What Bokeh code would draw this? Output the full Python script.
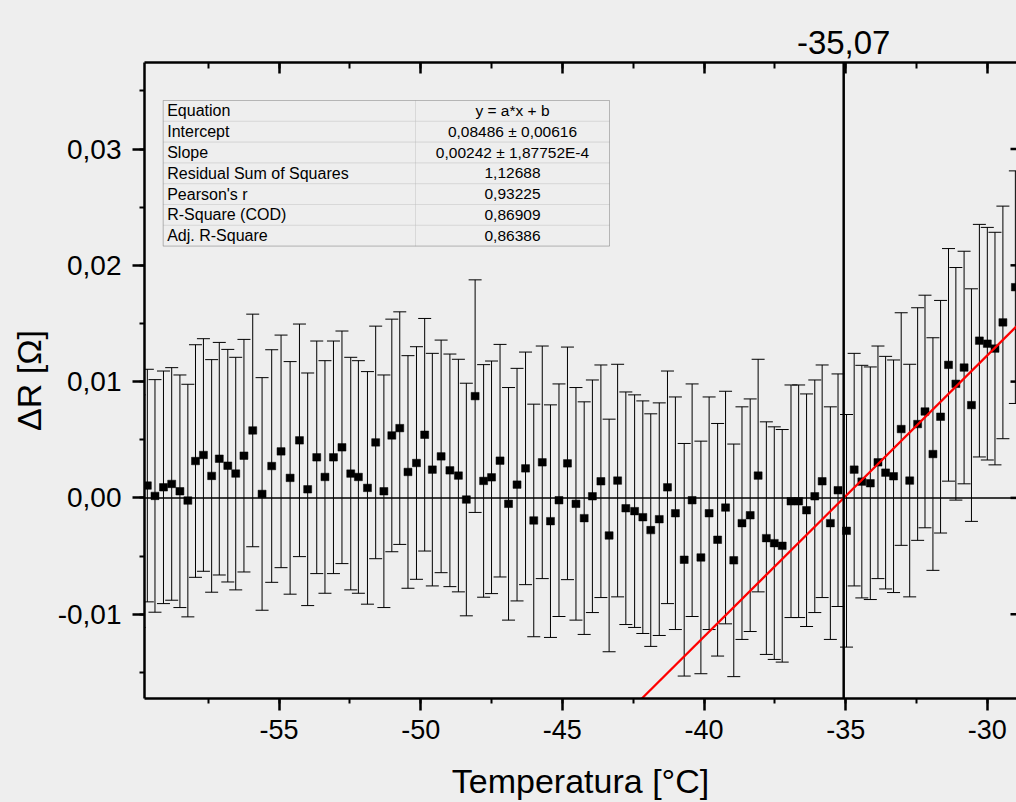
import numpy as np
from bokeh.plotting import figure
from bokeh.models import (Span, Label, BoxAnnotation, LinearAxis, Range1d, Title, FixedTicker,
                          CustomJSTickFormatter, ColumnDataSource, SingleIntervalTicker)
from bokeh.embed import file_html
from bokeh.resources import INLINE

# ---------------- data ----------------
temperature = [
    -59.94, -59.65, -59.38, -59.08, -58.79, -58.50, -58.22, -57.95, -57.67, -57.38, -57.11,
    -56.81, -56.53, -56.24, -55.93, -55.60, -55.26, -54.93, -54.61, -54.28, -53.99,
    -53.67, -53.38, -53.08, -52.78, -52.47, -52.20, -51.88, -51.59, -51.30, -51.02,
    -50.74, -50.45, -50.15, -49.86, -49.59, -49.28, -48.97, -48.67, -48.39, -48.08,
    -47.78, -47.50, -47.20, -46.90, -46.60, -46.30, -46.01, -45.71, -45.42, -45.12,
    -44.82, -44.52, -44.23, -43.94, -43.64, -43.35, -43.05, -42.76, -42.45, -42.16,
    -41.88, -41.58, -41.29, -41.01, -40.70, -40.42, -40.11, -39.82, -39.52, -39.24,
    -38.95, -38.66, -38.37, -38.09, -37.80, -37.52, -37.24, -36.93, -36.66, -36.38,
    -36.09, -35.83, -35.54, -35.27, -34.97, -34.70, -34.43, -34.13, -33.86, -33.59,
    -33.31, -33.04, -32.74, -32.46, -32.20, -31.92, -31.65, -31.37, -31.11, -30.82,
    -30.56, -30.28, -30.00, -29.73, -29.45, -29.01,
]
delta_r = [
    -0.00114, 0.00106, 0.00017, 0.00091, 0.00120, 0.00057, -0.00023, 0.00317, 0.00369, 0.00189, 0.00337,
    0.00277, 0.00209, 0.00363, 0.00580, 0.00034, 0.00274, 0.00400, 0.00172, 0.00495, 0.00074,
    0.00349, 0.00180, 0.00349, 0.00435, 0.00209, 0.00180, 0.00086, 0.00477, 0.00057, 0.00537,
    0.00600, 0.00223, 0.00300, 0.00543, 0.00243, 0.00357, 0.00237, 0.00192, -0.00014, 0.00875,
    0.00146, 0.00177, 0.00320, -0.00051, 0.00114, 0.00254, -0.00194, 0.00306, -0.00200, -0.00020,
    0.00297, -0.00051, -0.00174, 0.00014, 0.00143, -0.00323, 0.00149, -0.00089, -0.00114, -0.00166,
    -0.00277, -0.00183, 0.00091, -0.00132, -0.00532, -0.00020, -0.00512, -0.00132, -0.00360, -0.00083,
    -0.00537, -0.00217, -0.00149, 0.00192, -0.00346, -0.00389, -0.00412, -0.00029, -0.00029, -0.00106,
    0.00014, 0.00143, -0.00217, 0.00066, -0.00283, 0.00243, 0.00140, 0.00126, 0.00306, 0.00217,
    0.00186, 0.00592, 0.00149, 0.00635, 0.00743, 0.00377, 0.00698, 0.01144, 0.00981, 0.01121,
    0.00798, 0.01352, 0.01326, 0.01284, 0.01509, 0.01812,
]
delta_r_err = [
    0.01, 0.01, 0.01, 0.01, 0.01, 0.01, 0.01, 0.01, 0.01, 0.01, 0.01,
    0.01, 0.01, 0.01, 0.01, 0.01, 0.01, 0.01, 0.01, 0.01, 0.01,
    0.01, 0.01, 0.01, 0.01, 0.01, 0.01, 0.01, 0.01, 0.01, 0.01,
    0.01, 0.01, 0.01, 0.01, 0.01, 0.01, 0.01, 0.01, 0.01, 0.01,
    0.01, 0.01, 0.01, 0.01, 0.01, 0.01, 0.01, 0.01, 0.01, 0.01,
    0.01, 0.01, 0.01, 0.01, 0.01, 0.01, 0.01, 0.01, 0.01, 0.01,
    0.01, 0.01, 0.01, 0.01, 0.01, 0.01, 0.01, 0.01, 0.01, 0.01,
    0.01, 0.01, 0.01, 0.01, 0.01, 0.01, 0.01, 0.01, 0.01, 0.01,
    0.01, 0.01, 0.01, 0.01, 0.01, 0.01, 0.01, 0.01, 0.01, 0.01,
    0.01, 0.01, 0.01, 0.01, 0.01, 0.01, 0.01, 0.01, 0.01, 0.01,
    0.01, 0.01, 0.01, 0.01, 0.01, 0.01,
]

fit_slope = 0.00242
fit_intercept = 0.08486
crossing_temperature = -35.07

y_tick_values = [-0.01, 0.0, 0.01, 0.02, 0.03]

table_names = ["Equation", "Intercept", "Slope", "Residual Sum of Squares",
               "Pearson's r", "R-Square (COD)", "Adj. R-Square"]
table_values = ["y = a*x + b", "0,08486 \u00b1 0,00616", "0,00242 \u00b1 1,87752E-4",
                "1,12688", "0,93225", "0,86909", "0,86386"]

x_title = "Temperatura [\u00b0C]"
y_title = "\u0394R [\u03a9]"

# ---------------- styling / layout ----------------
FONT = "Liberation Sans"
BG = "#EEEEEE"
X_START, X_END = -59.75, -28.97
Y_START, Y_END = -0.01725, 0.03744

W, H = 1016, 802
BORDER_L, BORDER_R, BORDER_T, BORDER_B = 144, 0, 62, 103
FRAME_LEFT_PX = BORDER_L
FRAME_BOTTOM_PX = H - BORDER_B


def sx(px):
    return px - FRAME_LEFT_PX


def sy(py):
    return FRAME_BOTTOM_PX - py


p = figure(width=W, height=H,
           x_range=Range1d(X_START, X_END), y_range=Range1d(Y_START, Y_END),
           x_axis_location=None, y_axis_location=None,
           output_backend="svg", toolbar_location=None,
           min_border_left=BORDER_L, min_border_right=BORDER_R,
           min_border_top=BORDER_T, min_border_bottom=BORDER_B,
           background_fill_color=BG, border_fill_color=BG,
           outline_line_color=None)
p.xgrid.visible = False
p.ygrid.visible = False

try:
    from bokeh.models import GlobalInlineStyleSheet
    p.stylesheets = [GlobalInlineStyleSheet(css="html, body { background-color: #EEEEEE; }")]
except Exception:
    pass

y_fmt = CustomJSTickFormatter(code="return tick.toFixed(2).replace('.', ',');")
x_fmt = CustomJSTickFormatter(code="return tick.toFixed(0);")
blank = CustomJSTickFormatter(code="return '';")


def style_axis(ax):
    ax.axis_line_width = 2.5
    ax.axis_line_color = "black"
    ax.major_tick_line_width = 2.5
    ax.minor_tick_line_width = 2
    ax.major_tick_line_color = "black"
    ax.minor_tick_line_color = "black"
    ax.major_label_text_font = FONT
    ax.axis_label_text_font = FONT
    ax.axis_label_text_font_style = "normal"
    ax.major_label_text_color = "black"
    ax.axis_label_text_color = "black"


xb = LinearAxis(ticker=SingleIntervalTicker(interval=5, num_minor_ticks=2), formatter=x_fmt)
style_axis(xb)
xb.major_tick_out, xb.major_tick_in = 12, 0
xb.minor_tick_out, xb.minor_tick_in = 5, 0
xb.major_label_text_font_size = "27px"
xb.major_label_standoff = 9
xb.axis_label = x_title
xb.axis_label_text_font_size = "34px"
xb.axis_label_standoff = 20
p.add_layout(xb, "below")

xt = LinearAxis(ticker=SingleIntervalTicker(interval=5, num_minor_ticks=2), formatter=blank)
style_axis(xt)
xt.major_tick_out, xt.major_tick_in = 0, 11
xt.minor_tick_out, xt.minor_tick_in = 0, 6
xt.major_label_standoff = 0
p.add_layout(xt, "above")

# label of the crossing temperature above the frame
xc = LinearAxis(ticker=FixedTicker(ticks=[crossing_temperature], minor_ticks=[]),
                formatter=CustomJSTickFormatter(code="return tick.toFixed(2).replace('.', ',');"))
style_axis(xc)
xc.axis_line_color = None
xc.major_tick_line_color = None
xc.minor_tick_line_color = None
xc.major_tick_out, xc.major_tick_in = 0, 0
xc.major_label_text_font_size = "33px"
xc.major_label_standoff = 9
p.add_layout(xc, "above")

yl = LinearAxis(ticker=SingleIntervalTicker(interval=0.01, num_minor_ticks=2), formatter=y_fmt)
style_axis(yl)
yl.major_tick_out, yl.major_tick_in = 12, 0
yl.minor_tick_out, yl.minor_tick_in = 5, 0
yl.major_label_text_font_size = "28px"
yl.major_label_standoff = 11
p.add_layout(yl, "left")

p.add_layout(Title(text=y_title, align="center", offset=-24, standoff=14,
                   text_font=FONT, text_font_size="34px", text_font_style="normal",
                   text_color="black"), "left")

# ---------------- data marks ----------------
t = np.array(temperature)
r = np.array(delta_r)
e = np.array(delta_r_err)
src = ColumnDataSource(dict(t=t, r=r, lo=r - e, hi=r + e))

p.add_layout(Span(location=0, dimension="width", line_color="black", line_width=1.5,
                  level="underlay"))

p.segment(x0="t", y0="lo", x1="t", y1="hi", source=src, line_color="black", line_width=1)
p.scatter(x="t", y="hi", source=src, marker="dash", size=13, line_color="black", line_width=1)
p.scatter(x="t", y="lo", source=src, marker="dash", size=13, line_color="black", line_width=1)
p.rect(x="t", y="r", source=src, width=8, height=7.5, width_units="screen",
       height_units="screen", fill_color="black", line_color="black", line_width=0.5)

fit_x = np.array([X_START, X_END])
fit_y = fit_slope * fit_x + fit_intercept
p.line(fit_x, fit_y, line_color="#FF0000", line_width=2.2)

p.add_layout(Span(location=crossing_temperature, dimension="height",
                  line_color="black", line_width=2.5))

# inward ticks of the (cut-off) right frame edge
p.scatter(x=[X_END] * len(y_tick_values), y=y_tick_values, marker="dash", size=12,
          line_color="black", line_width=2.5)

# ---------------- fit parameter table ----------------
T_LEFT, T_MID, T_RIGHT = 162.7, 415.0, 609.0
T_TOP, ROW_H = 101.0, 20.8

for i, (name, val) in enumerate(zip(table_names, table_values)):
    top = T_TOP + i * ROW_H
    bot = top + ROW_H
    for (l, rr) in ((T_LEFT, T_MID), (T_MID, T_RIGHT)):
        p.add_layout(BoxAnnotation(left=sx(l), right=sx(rr), top=sy(top), bottom=sy(bot),
                                   left_units="screen", right_units="screen",
                                   top_units="screen", bottom_units="screen",
                                   fill_color=None, line_color="#C4C4C4", line_width=1))
    mid = (top + bot) / 2
    p.add_layout(Label(x=sx(T_LEFT + 4), y=sy(mid), x_units="screen", y_units="screen",
                       text=name, text_align="left", text_baseline="middle",
                       text_font=FONT, text_font_size="16px", text_color="black"))
    p.add_layout(Label(x=sx((T_MID + T_RIGHT) / 2), y=sy(mid), x_units="screen", y_units="screen",
                       text=val, text_align="center", text_baseline="middle",
                       text_font=FONT, text_font_size="15.5px", text_color="black"))

p.add_layout(BoxAnnotation(left=sx(T_LEFT), right=sx(T_RIGHT), top=sy(T_TOP),
                           bottom=sy(T_TOP + ROW_H * len(table_names)),
                           left_units="screen", right_units="screen",
                           top_units="screen", bottom_units="screen",
                           fill_color=None, line_color="#505050", line_width=1))

open("out.html", "w").write(file_html(p, INLINE))
